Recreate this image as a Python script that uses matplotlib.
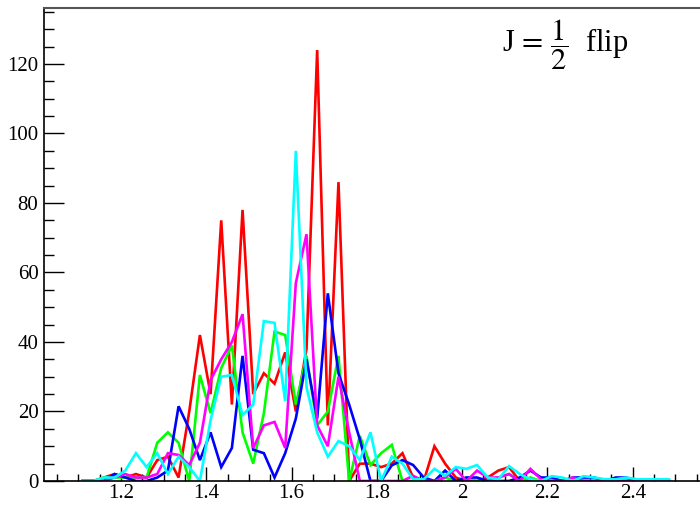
import matplotlib.pyplot as plt
import numpy as np
from matplotlib.ticker import MultipleLocator

plt.rcParams['font.family'] = ['Liberation Serif', 'DejaVu Serif']
plt.rcParams['mathtext.fontset'] = 'stix'

# bin centres of the histograms
x0 = 1.11
bin_w = 0.025

red = [0, 0, 1, 2, 1, 2, 1, 6, 7, 1, 20, 42, 25, 75, 22, 78, 25, 31, 28, 37,
       20, 38, 124, 16, 86, 0, 5, 5, 4, 5, 8, 1, 0, 10, 5, 1, 0, 0, 1, 3,
       4, 0, 0, 0, 0, 0, 0, 0, 0, 0, 0, 0, 0, 0, 0, 0]
green = [0, 0, 1, 1, 1, 1, 1, 11, 14, 11, 0, 30.5, 19.5, 32.5, 39, 14, 5, 19.5, 43, 42,
         22, 36, 16, 20, 36, 0, 13, 4.6, 8, 10.4, 0, 0, 0, 0, 1, 0, 1, 0, 0, 1,
         2, 0, 1, 0, 0, 0, 0, 0, 0, 0, 0, 0, 0, 0, 0, 0]
blue = [0, 0, 0, 2, 1, 0, 0, 1, 3, 21.5, 15, 6, 14, 4, 9.5, 36, 9, 8, 1, 8,
        18, 35, 18, 54, 31, 22, 12, 0, 0, 4.5, 6, 4.6, 1, 0, 3, 0, 1, 1, 0, 0,
        0, 1, 3, 1, 1, 0, 1, 1, 1, 0, 1, 1, 0, 0, 0, 0]
magenta = [0, 0, 0, 1, 2, 1, 1, 2, 8, 7.5, 4.6, 11, 29, 35, 40, 48, 9.5, 16, 17, 9.5,
           57, 71, 16, 10, 30, 14, 0, 0, 0, 0, 0, 1.5, 0, 0, 1, 3.5, 0, 3, 1, 1,
           2, 0, 3.5, 0.5, 0, 0, 1, 0, 0, 0, 0, 0, 0, 0, 0, 0]
cyan = [0, 0, 1, 1, 3, 8, 4, 8, 2, 7, 4, 0, 17.5, 30, 30.5, 19, 22, 46, 45.5, 23,
        95, 27, 14, 7, 11.5, 10, 6, 14, 0, 7, 5, 0.5, 0.5, 3.5, 1.5, 4, 3.5, 4.6, 1, 0.5,
        4.3, 2, 0.5, 0, 1.4, 1, 0, 1.4, 1, 0.5, 0.5, 1, 0.5, 0.5, 0.5, 0.5]

series = [(red, '#ff0000'), (green, '#00ff00'), (blue, '#0000ff'),
          (magenta, '#ff00ff'), (cyan, '#00ffff')]

fig = plt.figure(figsize=(7, 5.05), dpi=100)
# frame runs past the right edge of the canvas
ax = fig.add_axes([44/700, 24/505, 674/700, 473/505])

x = x0 + bin_w*np.arange(len(red))
for y, c in series:
    ax.plot(x, y, color=c, linewidth=1.9, solid_joinstyle='miter')

ax.set_xlim(1.0194, 2.6)
ax.set_ylim(0, 136.1)

ax.xaxis.set_major_locator(MultipleLocator(0.2))
ax.xaxis.set_minor_locator(MultipleLocator(0.05))
ax.yaxis.set_major_locator(MultipleLocator(20))
ax.yaxis.set_minor_locator(MultipleLocator(5))
# no label at the far right end
ax.xaxis.set_major_formatter(plt.FuncFormatter(lambda v, p: f'{v:g}' if v < 2.5 else ''))

ax.tick_params(axis='x', which='major', direction='in', length=10, width=1, labelsize=15, pad=2)
ax.tick_params(axis='x', which='minor', direction='in', length=5, width=1)
ax.tick_params(axis='y', which='major', direction='in', length=14.5, width=1, labelsize=15, pad=4)
ax.tick_params(axis='y', which='minor', direction='in', length=7, width=1)
ax.tick_params(top=False, right=False, which='both')

ax.spines['top'].set_color('#555555')
ax.spines['top'].set_linewidth(1.5)
for s in ['left', 'bottom']:
    ax.spines[s].set_linewidth(1.2)

fig.text(502/700, 1 - 45/505, r'J$\,=\,\dfrac{1}{2}$  flip', fontsize=22,
         ha='left', va='center')

fig.savefig('out.png', dpi=100)
